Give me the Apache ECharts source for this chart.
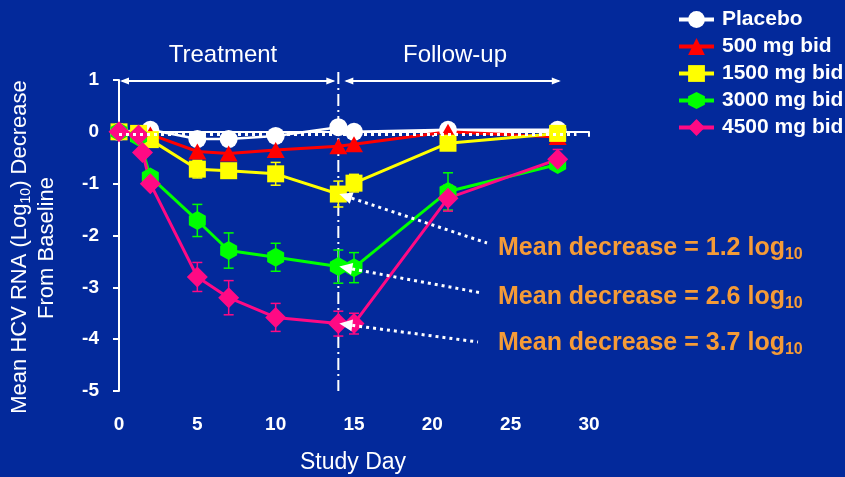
<!DOCTYPE html>
<html>
<head>
<meta charset="utf-8">
<script src="https://cdn.jsdelivr.net/npm/echarts@6/dist/echarts.min.js"></script>
<style>
  html, body { margin: 0; padding: 0; background: #03299B; }
  #chart { width: 845px; height: 477px; }
</style>
</head>
<body>
<div id="chart"></div>
<script>
// Study days at which HCV RNA was sampled
const days = [0, 1.25, 1.5, 2, 5, 7, 10, 14, 15, 21, 28];

// Mean change from baseline (log10), one array per dose group (null = not sampled)
const placebo  = [0, null, null, 0.04, -0.14, -0.14, -0.08, 0.09, 0.0, 0.04, 0.04];
const dose500  = [0, -0.02, null, -0.05, -0.38, -0.42, -0.35, -0.28, -0.24, 0.0, -0.1];
const dose1500 = [0, -0.03, null, -0.15, -0.72, -0.75, -0.81, -1.2, -0.99, -0.22, -0.03];
const dose3000 = [0, -0.1, null, -0.87, -1.71, -2.29, -2.42, -2.6, -2.62, -1.15, -0.63];
const dose4500 = [0, -0.06, -0.4, -1.0, -2.8, -3.2, -3.58, -3.7, -3.7, -1.28, -0.53];

// Standard errors (0 = no bar drawn)
const err1500 = [0, 0, 0, 0, 0.17, 0.12, 0.22, 0.25, 0.17, 0.1, 0.05];
const err3000 = [0, 0, 0, 0, 0.31, 0.34, 0.27, 0.32, 0.29, 0.36, 0.1];
const err4500 = [0, 0, 0, 0, 0.28, 0.33, 0.27, 0.24, 0.2, 0.25, 0.19];

const seriesNames = ['Placebo', '500 mg bid', '1500 mg bid', '3000 mg bid', '4500 mg bid'];
const meanDecreases = [1.2, 2.6, 3.7];   // end-of-treatment (day 14) for 1500/3000/4500
const endOfTreatmentDay = 14;
const followUpEndDay = 28.2;
const baselineLevel = -0.05;
const baselineEndDay = 29.2;

const FONT = '"Liberation Sans", Arial, Helvetica, sans-serif';
const ORANGE = '#F59B37';
const hexagon = 'path://M50,0 L93.3,25 L93.3,75 L50,100 L6.7,75 L6.7,25 Z';

function pts(vals) {
  return days.map((d, i) => [d, vals[i]]).filter(p => p[1] !== null);
}

function lineSeries(name, vals, color, symbol, size, width) {
  return {
    name, type: 'line', data: pts(vals),
    symbol, symbolSize: size, showSymbol: true,
    lineStyle: { color, width },
    itemStyle: { color, borderWidth: 0, opacity: 1 },
    z: 3, animation: false, emphasis: { disabled: true }
  };
}

function errorSeries(vals, errs, color) {
  const data = days.map((d, i) => (vals[i] !== null && errs[i]) ? [d, vals[i] - errs[i], vals[i] + errs[i]] : null)
                   .filter(Boolean);
  return {
    type: 'custom', data, z: 2, silent: true, animation: false,
    encode: { x: 0, y: [1, 2] },
    renderItem(params, api) {
      const lo = api.coord([api.value(0), api.value(1)]);
      const hi = api.coord([api.value(0), api.value(2)]);
      const w = 5;
      const st = { stroke: color, lineWidth: 1.5 };
      return {
        type: 'group', children: [
          { type: 'line', shape: { x1: lo[0], y1: lo[1], x2: hi[0], y2: hi[1] }, style: st },
          { type: 'line', shape: { x1: lo[0] - w, y1: lo[1], x2: lo[0] + w, y2: lo[1] }, style: st },
          { type: 'line', shape: { x1: hi[0] - w, y1: hi[1], x2: hi[0] + w, y2: hi[1] }, style: st }
        ]
      };
    }
  };
}

const chart = echarts.init(document.getElementById('chart'));

chart.setOption({
  backgroundColor: '#03299B',
  animation: false,
  textStyle: { fontFamily: FONT },
  grid: { left: 119, right: 256, top: 80, bottom: 86 },
  legend: {
    orient: 'vertical', left: 672, top: 4,
    itemWidth: 35, itemHeight: 21, itemGap: 6,
    data: seriesNames,
    lineStyle: { width: 4 },
    textStyle: { color: '#fff', fontSize: 21, fontWeight: 'bold', fontFamily: FONT, lineHeight: 21, padding: [0, 0, 0, 3] },
    selectedMode: false
  },
  xAxis: {
    type: 'value', min: 0, max: 30, interval: 5,
    axisLine: { lineStyle: { color: '#fff', width: 2 } },
    axisTick: { show: true, length: 5, lineStyle: { color: '#fff', width: 2 } },
    splitLine: { show: false },
    axisLabel: { color: '#fff', fontSize: 19, fontWeight: 'bold', fontFamily: FONT, margin: 24 }
  },
  yAxis: {
    type: 'value', min: -5, max: 1, interval: 1,
    axisLine: { show: true, lineStyle: { color: '#fff', width: 2 } },
    axisTick: { show: true, length: 6, lineStyle: { color: '#fff', width: 2 } },
    splitLine: { show: false },
    axisLabel: { color: '#fff', fontSize: 19, fontWeight: 'bold', fontFamily: FONT, margin: 20 }
  },
  series: [
    errorSeries(dose1500, err1500, '#FFFF00'),
    errorSeries(dose3000, err3000, '#00FF00'),
    errorSeries(dose4500, err4500, '#FF0A84'),
    lineSeries(seriesNames[0], placebo, '#FFFFFF', 'circle', 18, 2.5),
    lineSeries(seriesNames[1], dose500, '#FF0000', 'triangle', [18, 16], 3),
    lineSeries(seriesNames[2], dose1500, '#FFFF00', 'rect', 17, 3),
    lineSeries(seriesNames[3], dose3000, '#00FF00', hexagon, [17, 19], 3),
    lineSeries(seriesNames[4], dose4500, '#FF0A84', 'diamond', [21, 21], 3),
    {
      name: 'baseline', type: 'line', z: 4, silent: true, symbol: 'none',
      data: [[0, baselineLevel], [baselineEndDay, baselineLevel]],
      lineStyle: { color: '#fff', width: 3, type: [3, 4] }
    }
  ]
});

// Annotations drawn in pixel space from data coordinates
function px(x, y) { return chart.convertToPixel({ gridIndex: 0 }, [x, y]); }

const g = [];
const xEnd = px(endOfTreatmentDay, 0)[0];
const x0 = px(0, 0)[0];
const xFollow = px(followUpEndDay, 0)[0];
const yAxisBottom = px(0, -5)[1];
const arrowY = 81;

// End-of-treatment dash-dot divider
g.push({ type: 'line', z: 1, shape: { x1: xEnd, y1: 72, x2: xEnd, y2: yAxisBottom },
  style: { stroke: '#fff', lineWidth: 2, lineDash: [12, 4, 2, 4] } });

function dblArrow(xa, xb, y) {
  const L = 9, H = 3.5;
  g.push({ type: 'line', z: 1, shape: { x1: xa + 2, y1: y, x2: xb - 2, y2: y }, style: { stroke: '#fff', lineWidth: 2 } });
  g.push({ type: 'polygon', z: 1, shape: { points: [[xa, y], [xa + L, y - H], [xa + L, y + H]] }, style: { fill: '#fff' } });
  g.push({ type: 'polygon', z: 1, shape: { points: [[xb, y], [xb - L, y - H], [xb - L, y + H]] }, style: { fill: '#fff' } });
}
dblArrow(x0 + 1, xEnd - 3, arrowY);
dblArrow(xEnd + 6, xFollow, arrowY);

g.push({ type: 'text', z: 1, x: 223, y: 55, style: { text: 'Treatment', fill: '#fff', font: '24px ' + FONT, align: 'center', verticalAlign: 'middle' } });
g.push({ type: 'text', z: 1, x: 455, y: 55, style: { text: 'Follow-up', fill: '#fff', font: '24px ' + FONT, align: 'center', verticalAlign: 'middle' } });

// Axis titles
g.push({ type: 'text', x: 20, y: 247, rotation: Math.PI / 2, style: {
  text: '{a|Mean HCV RNA (Log}{s|10}{a|) Decrease}', align: 'center', verticalAlign: 'middle',
  rich: {
    a: { fill: '#fff', fontSize: 22, fontFamily: FONT, lineHeight: 26 },
    s: { fill: '#fff', fontSize: 14, fontFamily: FONT, verticalAlign: 'bottom', lineHeight: 20 }
  } } });
g.push({ type: 'text', x: 47, y: 248, rotation: Math.PI / 2, style: {
  text: 'From Baseline', fill: '#fff', font: '22px ' + FONT, align: 'center', verticalAlign: 'middle' } });
g.push({ type: 'text', x: 353, y: 463, style: {
  text: 'Study Day', fill: '#fff', font: '23px ' + FONT, align: 'center', verticalAlign: 'middle' } });

// Mean-decrease callouts pointing at the day-14 values
const callouts = [
  { value: meanDecreases[0], textY: 248, end: [487, 243] },
  { value: meanDecreases[1], textY: 297, end: [482, 293] },
  { value: meanDecreases[2], textY: 343, end: [478, 342] }
];
callouts.forEach(c => {
  const tip = px(endOfTreatmentDay, -c.value);
  tip[0] += 1;
  const dx = c.end[0] - tip[0], dy = c.end[1] - tip[1];
  const len = Math.hypot(dx, dy);
  const ux = dx / len, uy = dy / len, nx = -uy, ny = ux;
  const L = 13, H = 6;
  const bx = tip[0] + ux * L, by = tip[1] + uy * L;
  g.push({ type: 'polygon', z: 100, shape: { points: [tip, [bx + nx * H, by + ny * H], [bx - nx * H, by - ny * H]] },
    style: { fill: '#fff' } });
  g.push({ type: 'line', z: 100, shape: { x1: bx, y1: by, x2: c.end[0], y2: c.end[1] },
    style: { stroke: '#fff', lineWidth: 3, lineDash: [3, 4] } });
  g.push({ type: 'text', z: 100, x: 498, y: c.textY, style: {
    text: '{a|Mean decrease = ' + c.value.toFixed(1) + ' log}{s|10}', align: 'left', verticalAlign: 'middle',
    rich: {
      a: { fill: ORANGE, fontSize: 25, fontWeight: 'bold', fontFamily: FONT, lineHeight: 30 },
      s: { fill: ORANGE, fontSize: 16, fontWeight: 'bold', fontFamily: FONT, verticalAlign: 'bottom', lineHeight: 20 }
    } } });
});

chart.setOption({ graphic: { elements: g } });
</script>
</body>
</html>
